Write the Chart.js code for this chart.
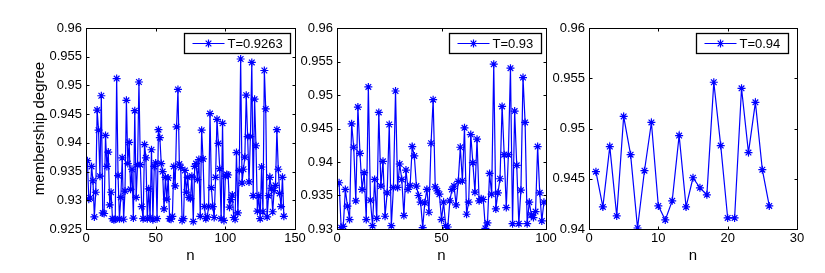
<!DOCTYPE html>
<html>
<head>
<meta charset="utf-8">
<script src="https://cdn.jsdelivr.net/npm/chart.js@4.4.0/dist/chart.umd.min.js"></script>
<style>
  html, body { margin: 0; padding: 0; background: #fff; }
  #wrap { position: relative; width: 825px; height: 273px; overflow: hidden; }
  canvas { position: absolute; top: 0; }
</style>
</head>
<body>
<div id="wrap">
  <canvas id="c1" width="312" height="273" style="left:0px"></canvas>
  <canvas id="c2" width="262" height="273" style="left:300px"></canvas>
  <canvas id="c3" width="275" height="273" style="left:550px"></canvas>
</div>
<script>
// Membership degree per sample
const valuesT09263 = [
  0.9369, 0.9302, 0.9304, 0.9359, 0.9334, 0.9271, 0.9314, 0.9457, 0.9422, 0.9342,
  0.9482, 0.9278, 0.9277, 0.9413, 0.9359, 0.9384, 0.9292, 0.9314, 0.9268, 0.9266,
  0.9267, 0.9512, 0.9343, 0.9268, 0.9305, 0.9374, 0.9267, 0.9316, 0.9474, 0.9364,
  0.9401, 0.9319, 0.9354, 0.9269, 0.9456, 0.9305, 0.9362, 0.9506, 0.9362, 0.9289,
  0.9268, 0.9397, 0.9374, 0.9268, 0.9320, 0.9270, 0.9388, 0.9266, 0.9359, 0.9365,
  0.9268, 0.9423, 0.9409, 0.9364, 0.9350, 0.9285, 0.9340, 0.9302, 0.9339, 0.9268,
  0.9267, 0.9272, 0.9359, 0.9325, 0.9428, 0.9493, 0.9363, 0.9357, 0.9265, 0.9268,
  0.9352, 0.9314, 0.9340, 0.9305, 0.9303, 0.9342, 0.9263, 0.9359, 0.9364, 0.9336,
  0.9371, 0.9272, 0.9422, 0.9372, 0.9289, 0.9268, 0.9271, 0.9289, 0.9451, 0.9322,
  0.9289, 0.9270, 0.9340, 0.9441, 0.9399, 0.9355, 0.9268, 0.9434, 0.9265, 0.9342,
  0.9345, 0.9344, 0.9288, 0.9301, 0.9309, 0.9270, 0.9267, 0.9383, 0.9278, 0.9352,
  0.9546, 0.9330, 0.9354, 0.9375, 0.9483, 0.9411, 0.9332, 0.9411, 0.9540, 0.9308,
  0.9476, 0.9395, 0.9281, 0.9308, 0.9268, 0.9358, 0.9280, 0.9526, 0.9459, 0.9271,
  0.9308, 0.9340, 0.9321, 0.9280, 0.9317, 0.9326, 0.9423, 0.9354, 0.9312, 0.9289,
  0.9340, 0.9272
];

const valuesT093 = [
  0.9369, 0.9302, 0.9304, 0.9359, 0.9334, 0.9314, 0.9457, 0.9422, 0.9342, 0.9482,
  0.9413, 0.9359, 0.9384, 0.9314, 0.9512, 0.9343, 0.9305, 0.9374, 0.9316, 0.9474,
  0.9364, 0.9401, 0.9319, 0.9354, 0.9456, 0.9305, 0.9362, 0.9506, 0.9362, 0.9397,
  0.9374, 0.9320, 0.9388, 0.9359, 0.9365, 0.9423, 0.9409, 0.9364, 0.9350, 0.9340,
  0.9302, 0.9339, 0.9359, 0.9325, 0.9428, 0.9493, 0.9363, 0.9357, 0.9352, 0.9314,
  0.9340, 0.9305, 0.9303, 0.9342, 0.9359, 0.9364, 0.9336, 0.9371, 0.9422, 0.9372,
  0.9451, 0.9322, 0.9340, 0.9441, 0.9399, 0.9355, 0.9434, 0.9342, 0.9345, 0.9344,
  0.9301, 0.9309, 0.9383, 0.9352, 0.9546, 0.9330, 0.9354, 0.9375, 0.9483, 0.9411,
  0.9332, 0.9411, 0.9540, 0.9308, 0.9476, 0.9395, 0.9308, 0.9358, 0.9526, 0.9459,
  0.9308, 0.9340, 0.9321, 0.9317, 0.9326, 0.9423, 0.9354, 0.9312, 0.9340
];

const valuesT094 = [
  0.9457, 0.9422, 0.9482, 0.9413, 0.9512, 0.9474, 0.9401, 0.9458, 0.9506, 0.9423,
  0.9409, 0.9428, 0.9493, 0.9422, 0.9451, 0.9441, 0.9434, 0.9546, 0.9483, 0.9411,
  0.9411, 0.9540, 0.9476, 0.9526, 0.9459, 0.9423
];

const legendLabels = ["T=0.9263", "T=0.93", "T=0.94"];

const FONT = "'Liberation Sans', Arial, sans-serif";
const BLUE = "#0000ff";

// Box, inward ticks and a MATLAB-like legend inside the axes
const matlabBox = {
  id: "matlabBox",
  afterDatasetsDraw(chart, args, opts) {
    const { ctx, chartArea: a, scales } = chart;
    const L = Math.round(a.left) + 0.5, R = Math.round(a.right) + 0.5;
    const T = Math.round(a.top) + 0.5, B = Math.round(a.bottom) + 0.5;
    const tl = 3;
    ctx.save();
    ctx.strokeStyle = "#000";
    ctx.lineWidth = 1;
    ctx.strokeRect(L, T, R - L, B - T);
    ctx.beginPath();
    scales.x.ticks.forEach(t => {
      const px = Math.round(scales.x.getPixelForValue(t.value)) + 0.5;
      ctx.moveTo(px, B); ctx.lineTo(px, B - tl);
      ctx.moveTo(px, T); ctx.lineTo(px, T + tl);
    });
    scales.y.ticks.forEach(t => {
      const py = Math.round(scales.y.getPixelForValue(t.value)) + 0.5;
      ctx.moveTo(L, py); ctx.lineTo(L + tl, py);
      ctx.moveTo(R, py); ctx.lineTo(R - tl, py);
    });
    ctx.stroke();

    // legend
    ctx.font = "13px " + FONT;
    const tw = ctx.measureText(opts.text).width;
    const bw = Math.round(43 + tw + 8), bh = 20;
    const bx = Math.round(a.right - opts.inset - bw) + 0.5, by = Math.round(a.top + 5) + 0.5;
    ctx.fillStyle = "#fff";
    ctx.fillRect(bx, by, bw, bh);
    ctx.strokeStyle = "#000";
    ctx.lineWidth = 1.3;
    ctx.strokeRect(bx, by, bw, bh);
    const my = by + bh / 2;
    ctx.strokeStyle = BLUE;
    ctx.lineWidth = 1.2;
    ctx.beginPath();
    ctx.moveTo(bx + 8, my); ctx.lineTo(bx + 40, my);
    ctx.stroke();
    Chart.helpers.drawPoint(ctx, { pointStyle: "star", radius: 4, borderWidth: 1.2 }, bx + 24, my);
    ctx.fillStyle = "#000";
    ctx.textBaseline = "middle";
    ctx.textAlign = "left";
    ctx.fillText(opts.text, bx + 43, my + 0.5);
    ctx.restore();
  }
};

function fmt(v) {
  return String(parseFloat(Number(v).toFixed(3)));
}

function makeChart(id, values, cfg) {
  const ctx = document.getElementById(id).getContext("2d");
  return new Chart(ctx, {
    type: "line",
    data: {
      datasets: [{
        data: values.map((v, i) => ({ x: i + 1, y: v })),
        borderColor: BLUE,
        borderWidth: 1.2,
        pointStyle: "star",
        pointRadius: 4,
        pointBorderColor: BLUE,
        pointBackgroundColor: BLUE,
        pointBorderWidth: 1.2,
        tension: 0,
        fill: false
      }]
    },
    options: {
      responsive: false,
      animation: false,
      events: [],
      layout: { padding: { top: 28, right: cfg.padRight, left: 0, bottom: 0 } },
      plugins: {
        legend: { display: false },
        tooltip: { enabled: false },
        matlabBox: { text: cfg.legend, inset: cfg.inset }
      },
      scales: {
        x: {
          type: "linear",
          min: 0,
          max: cfg.xMax,
          ticks: { stepSize: cfg.xStep, font: { family: FONT, size: 13 }, color: "#000", padding: 2, maxRotation: 0, autoSkip: false },
          grid: { display: false, drawTicks: false },
          border: { display: false },
          title: { display: true, text: "n", font: { family: FONT, size: 15 }, color: "#000", padding: { top: 0, bottom: 8 } },
          afterFit: s => { s.height = 44; }
        },
        y: {
          min: cfg.yMin,
          max: 0.96,
          ticks: { stepSize: 0.005, font: { family: FONT, size: 13 }, color: "#000", padding: 4, callback: fmt, autoSkip: false },
          grid: { display: false, drawTicks: false },
          border: { display: false },
          title: { display: cfg.yTitle, text: "membership degree", font: { family: FONT, size: 15 }, color: "#000", padding: { top: 31, bottom: 0 } },
          afterFit: s => { s.width = cfg.axisW; }
        }
      }
    },
    plugins: [matlabBox]
  });
}

makeChart("c1", valuesT09263, { xMax: 150, xStep: 50, yMin: 0.925, axisW: 86, padRight: 17, legend: legendLabels[0], inset: 5, yTitle: true });
makeChart("c2", valuesT093, { xMax: 100, xStep: 50, yMin: 0.93, axisW: 37, padRight: 16, legend: legendLabels[1], inset: 5, yTitle: false });
makeChart("c3", valuesT094, { xMax: 30, xStep: 10, yMin: 0.94, axisW: 39, padRight: 28, legend: legendLabels[2], inset: 9, yTitle: false });
</script>
</body>
</html>
